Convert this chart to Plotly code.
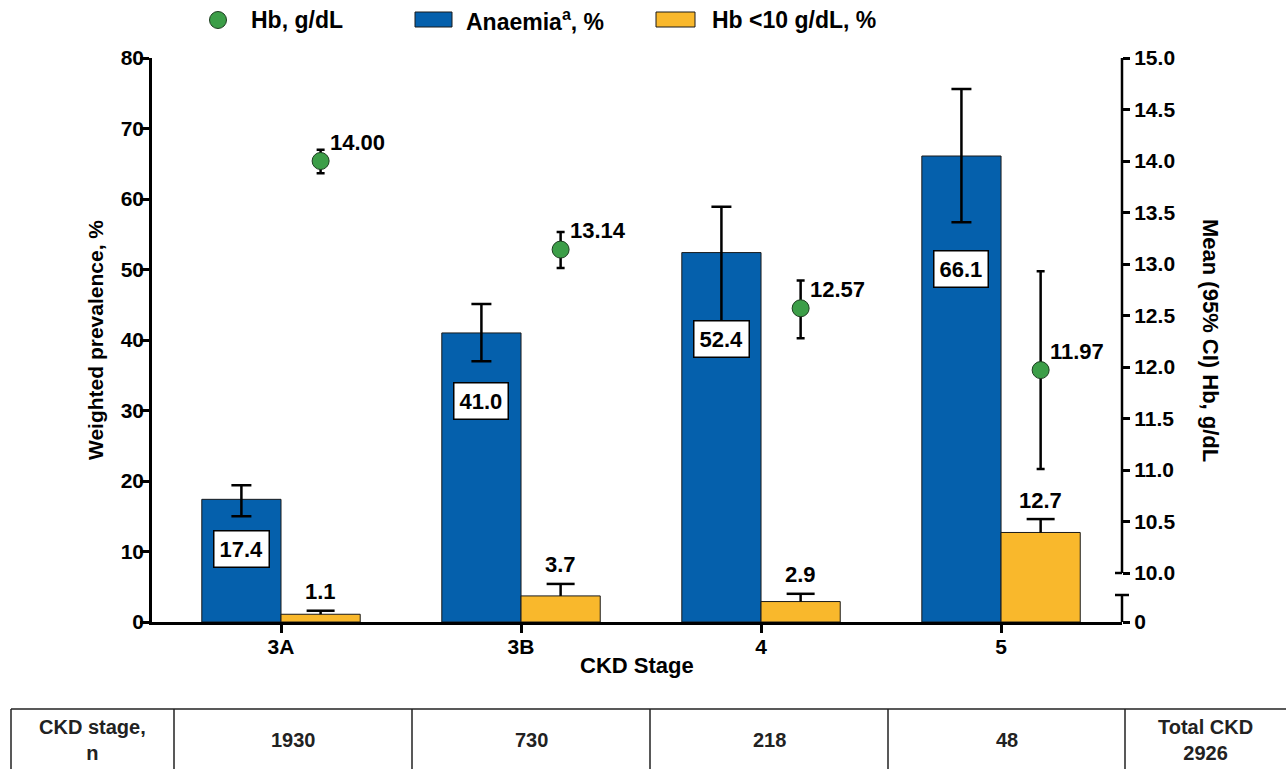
import plotly.graph_objects as go

# ---------------- data ----------------
stages = ["3A", "3B", "4", "5"]
anaemia = [17.4, 41.0, 52.4, 66.1]
anaemia_hi = [19.4, 45.1, 58.9, 75.6]
anaemia_lo = [15.0, 37.0, 42.0, 56.7]
hb10 = [1.1, 3.7, 2.9, 12.7]
hb10_hi = [1.6, 5.4, 4.0, 14.6]
hb_mean = [14.00, 13.14, 12.57, 11.97]
hb_hi = [14.11, 13.31, 12.84, 12.93]
hb_lo = [13.88, 12.96, 12.28, 11.01]
n_per_stage = [1930, 730, 218, 48]
n_total = 2926
left_ticks = [0, 10, 20, 30, 40, 50, 60, 70, 80]
right_ticks = [10.0, 10.5, 11.0, 11.5, 12.0, 12.5, 13.0, 13.5, 14.0, 14.5, 15.0]
# layout-only: vertical position of the boxed anaemia labels (in % units)
anaemia_label_pos = [10.35, 31.35, 40.1, 50.1]

# ---------------- style ----------------
BLUE = "#0560AC"
ORANGE = "#F9B82C"
GREEN = "#3C9E48"
FONT = "Liberation Sans, Arial, sans-serif"
W, H = 1286, 769
L, R, T, B = 152, 164, 58, 147
PW, PH = W - L - R, H - T - B
BW = 0.33
Y2_MIN = 15 - 5 * PH / (573 - 58)
x = list(range(len(stages)))


def px2x(px):
    return (px - L) / PW


def py2y(py):
    return (H - B - py) / PH


fig = go.Figure()

fig.add_trace(go.Bar(
    x=x, y=anaemia, width=BW, offset=-BW, name="Anaemia, %",
    marker=dict(color=BLUE, line=dict(color="#1a1a1a", width=1)),
    error_y=dict(type="data", symmetric=False,
                 array=[h - v for h, v in zip(anaemia_hi, anaemia)],
                 arrayminus=[v - l for v, l in zip(anaemia, anaemia_lo)],
                 color="black", thickness=2.5, width=10),
    showlegend=False))

fig.add_trace(go.Bar(
    x=x, y=hb10, width=BW, offset=0, name="Hb <10 g/dL, %",
    marker=dict(color=ORANGE, line=dict(color="#1a1a1a", width=1)),
    showlegend=False))

# upper-only error bars of the Hb<10 bars: stem without caps + cap marker on top
fig.add_trace(go.Scatter(
    x=[i + BW / 2 for i in x], y=hb10_hi, mode="markers", name="Hb <10 upper CI",
    marker=dict(symbol="line-ew-open", size=20, color="black", line=dict(color="black", width=2.5)),
    error_y=dict(type="data", symmetric=False, array=[0] * len(hb10),
                 arrayminus=[h - v for h, v in zip(hb10_hi, hb10)],
                 color="black", thickness=2.5, width=0),
    showlegend=False, hoverinfo="skip"))

fig.add_trace(go.Scatter(
    x=[i + BW / 2 for i in x], y=hb_mean, yaxis="y2", mode="markers",
    name="Hb, g/dL",
    marker=dict(color=GREEN, size=17, line=dict(color="#1d3d20", width=1)),
    error_y=dict(type="data", symmetric=False,
                 array=[h - v for h, v in zip(hb_hi, hb_mean)],
                 arrayminus=[v - l for v, l in zip(hb_mean, hb_lo)],
                 color="black", thickness=2.5, width=4),
    showlegend=False))

ann = []
shapes = []

# boxed anaemia labels
for i, (v, yp) in enumerate(zip(anaemia, anaemia_label_pos)):
    ann.append(dict(x=i - BW / 2, y=yp, xref="x", yref="y", text=f"{v:.1f}",
                    showarrow=False, font=dict(size=22, color="black", family=FONT, weight="bold"),
                    bgcolor="white", bordercolor="black", borderwidth=1.5, borderpad=5))
# orange labels
for i, (v, top) in enumerate(zip(hb10, hb10_hi)):
    ann.append(dict(x=i + BW / 2, y=top, xref="x", yref="y", text=f"{v:.1f}",
                    showarrow=False, yanchor="middle", yshift=19,
                    font=dict(size=22, color="black", family=FONT, weight="bold")))
# Hb labels
for i, v in enumerate(hb_mean):
    ann.append(dict(x=i + BW / 2, y=v, xref="x", yref="y2", text=f"{v:.2f}",
                    showarrow=False, xanchor="left", yanchor="middle", xshift=7, yshift=19,
                    font=dict(size=22, color="black", family=FONT, weight="bold")))

# right axis title
ann.append(dict(x=px2x(1211), y=0.5, xref="paper", yref="paper", xanchor="center",
                yanchor="middle", text="Mean (95% CI) Hb, g/dL", textangle=90, showarrow=False,
                font=dict(size=22, color="black", family=FONT, weight="bold")))
# x axis title
ann.append(dict(x=0.5, y=py2y(665), xref="paper", yref="paper", xanchor="center",
                text="CKD Stage", showarrow=False, yanchor="middle",
                font=dict(size=22, color="black", family=FONT, weight="bold")))

# broken right axis
shapes.append(dict(type="line", xref="paper", yref="y2", x0=1, x1=1, y0=10, y1=15,
                   line=dict(color="black", width=2.5)))
shapes.append(dict(type="line", xref="paper", yref="y2", xsizemode="pixel", xanchor=1,
                   x0=-7, x1=0, y0=10, y1=10, line=dict(color="black", width=2.5)))
brk = Y2_MIN + (622 - 595) / PH * (15 - Y2_MIN)
shapes.append(dict(type="line", xref="paper", yref="y2", x0=1, x1=1, y0=Y2_MIN, y1=brk,
                   line=dict(color="black", width=2.5)))
shapes.append(dict(type="line", xref="paper", yref="y2", xsizemode="pixel", xanchor=1,
                   x0=-7, x1=7, y0=brk, y1=brk, line=dict(color="black", width=2.5)))

# manual legend
LEG = dict(size=23, color="black", family=FONT, weight="bold")
ly = py2y(20)
shapes.append(dict(type="circle", xref="paper", yref="paper", xsizemode="pixel", ysizemode="pixel",
                   xanchor=px2x(218), yanchor=ly, x0=-8.5, x1=8.5, y0=-8.5, y1=8.5,
                   fillcolor=GREEN, line=dict(color="#1d3d20", width=1)))
ann.append(dict(x=px2x(249), y=ly, xref="paper", yref="paper", xanchor="left", yanchor="middle",
                text="Hb, g/dL", showarrow=False, font=LEG))
shapes.append(dict(type="rect", xref="paper", yref="paper", ysizemode="pixel", yanchor=ly,
                   x0=px2x(415), x1=px2x(452), y0=-7, y1=8,
                   fillcolor=BLUE, line=dict(color="#1a1a1a", width=1)))
ann.append(dict(x=px2x(464), y=ly, xref="paper", yref="paper", xanchor="left", yanchor="middle",
                text="Anaemia<sup>a</sup>, %", showarrow=False, font=LEG))
shapes.append(dict(type="rect", xref="paper", yref="paper", ysizemode="pixel", yanchor=ly,
                   x0=px2x(656), x1=px2x(695), y0=-7, y1=8,
                   fillcolor=ORANGE, line=dict(color="#1a1a1a", width=1)))
ann.append(dict(x=px2x(710), y=ly, xref="paper", yref="paper", xanchor="left", yanchor="middle",
                text="Hb &lt;10 g/dL, %", showarrow=False, font=LEG))

# table
col_edges = [11, 174, 412, 650, 888, 1125]
ty0, ty1 = 709, 775
shapes.append(dict(type="line", xref="paper", yref="paper", x0=px2x(11), x1=px2x(1300),
                   y0=py2y(ty0), y1=py2y(ty0), line=dict(color="#222", width=1.5)))
for cx in col_edges:
    shapes.append(dict(type="line", xref="paper", yref="paper", x0=px2x(cx), x1=px2x(cx),
                       y0=py2y(ty0), y1=py2y(ty1), line=dict(color="#222", width=1.5)))
cells = ["CKD stage,<br>n"] + [str(n) for n in n_per_stage] + [f"Total CKD<br>{n_total}"]
centers = [(col_edges[k] + col_edges[k + 1]) / 2 for k in range(len(col_edges) - 1)] + [1205]
for cx, txt in zip(centers, cells):
    ann.append(dict(x=px2x(cx), y=py2y(740), xref="paper", yref="paper", text=txt,
                    showarrow=False, xanchor="center", yanchor="middle",
                    font=dict(size=20, color="#222", family=FONT, weight="bold")))

axis_font = dict(size=21, color="black", family=FONT, weight="bold")
fig.update_layout(
    width=W, height=H, margin=dict(l=L, r=R, t=T, b=B),
    plot_bgcolor="white", paper_bgcolor="white",
    font=dict(family=FONT, color="black"),
    barmode="overlay",
    xaxis=dict(range=[-0.5375, 3.504], tickvals=x, ticktext=stages,
               showline=True, linecolor="black", linewidth=2.5,
               ticks="outside", ticklen=8, tickwidth=2.5, tickcolor="black",
               showgrid=False, zeroline=False, tickfont=axis_font,
               ticklabelstandoff=-4),
    yaxis=dict(range=[0, 80], tickvals=left_ticks, showline=True, linecolor="black",
               linewidth=2.5, ticks="outside", ticklen=9, tickwidth=2.5, tickcolor="black",
               showgrid=False, zeroline=False, tickfont=axis_font, ticklabelstandoff=-8,
               title=dict(text="Weighted prevalence, %", font=axis_font, standoff=12)),
    yaxis2=dict(range=[Y2_MIN, 15], overlaying="y", side="right",
                tickvals=[Y2_MIN] + right_ticks,
                ticktext=["0"] + [f"{t:.1f}" for t in right_ticks],
                showline=False, ticks="outside", ticklen=7, tickwidth=2.5, tickcolor="black",
                showgrid=False, zeroline=False, tickfont=axis_font),
    annotations=ann, shapes=shapes,
)

fig.write_html("out.html", config={"displayModeBar": False},
               post_script="document.body.style.margin='0';")
